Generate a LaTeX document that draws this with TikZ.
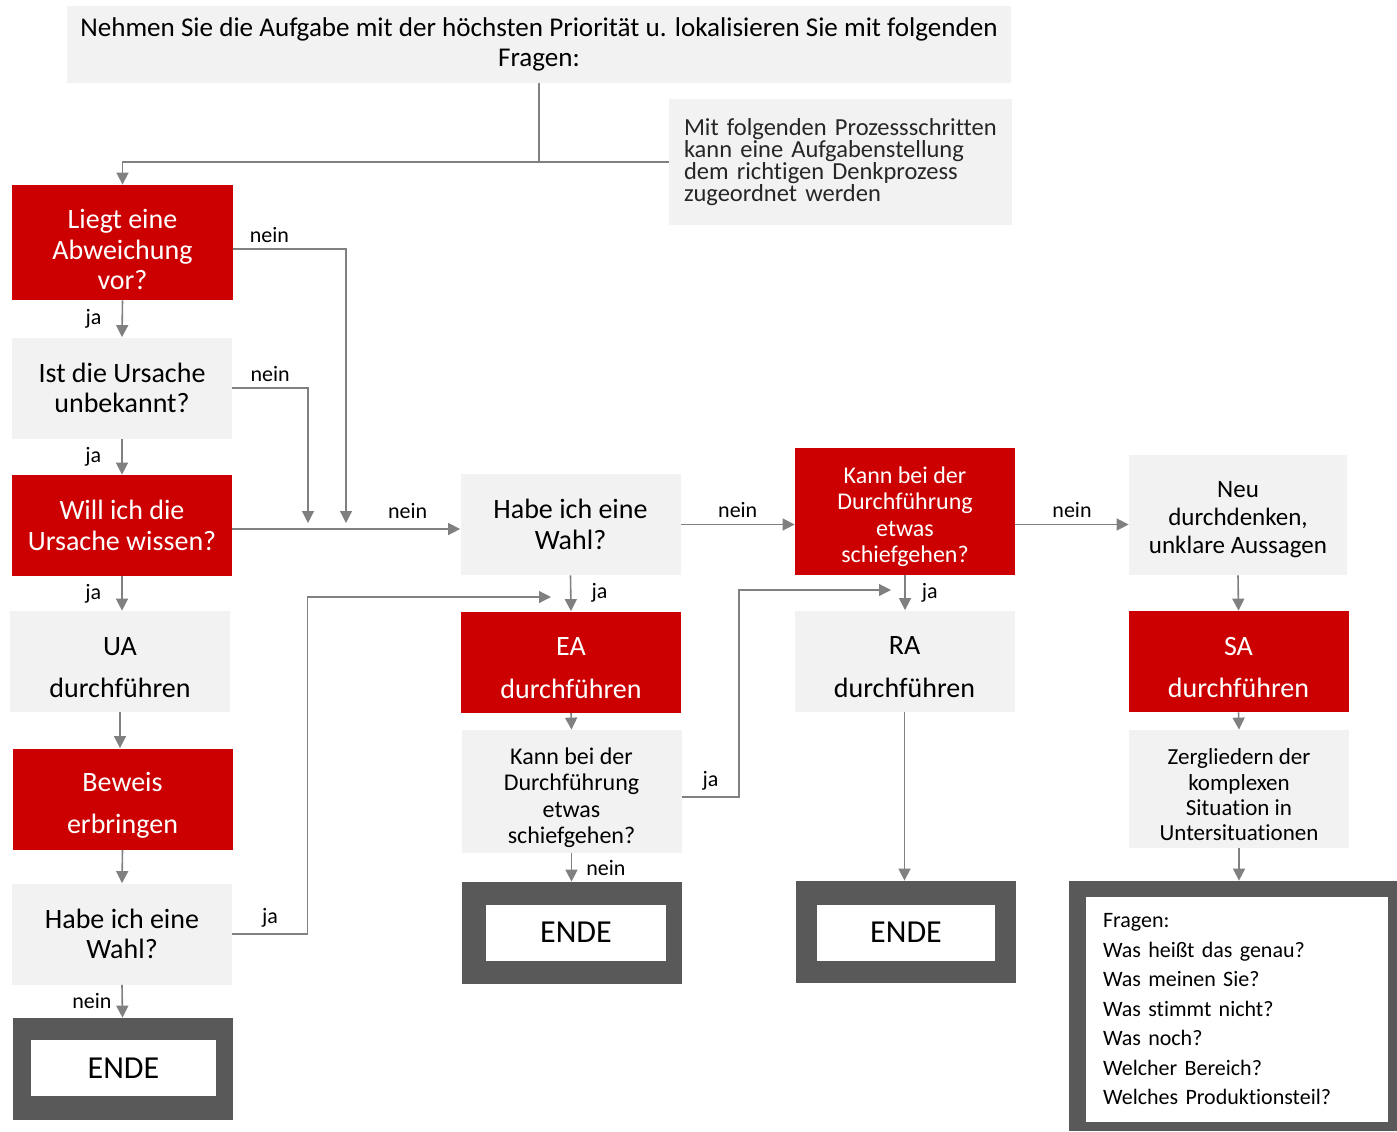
\documentclass[tikz,border=0pt]{standalone}
\usepackage{fontspec}
\setmainfont{Carlito}[Ligatures=NoCommon]
\usetikzlibrary{arrows.meta}
\definecolor{flowred}{RGB}{204,0,0}
\definecolor{boxgray}{RGB}{242,242,242}
\definecolor{endgray}{RGB}{89,89,89}
\definecolor{linegray}{RGB}{128,128,128}
\newcommand{\boxfont}{\fontsize{14}{15.25}\selectfont}
\newcommand{\askfont}{\fontsize{12}{13.3}\selectfont}
\newcommand{\labfont}{\fontsize{11}{13}\selectfont}
\newcommand{\topgap}[1]{\rule{0pt}{#1}}
\tikzset{
  box/.style     = {rectangle, inner sep=0pt, align=center,
                    minimum width=110pt, minimum height=50.5pt, font=\boxfont},
  redbox/.style  = {box, fill=flowred, text=white},
  graybox/.style = {box, fill=boxgray, text=black},
  endframe/.style= {rectangle, fill=endgray, inner sep=0pt,
                    minimum width=110pt, minimum height=51pt},
  endtext/.style = {rectangle, fill=white, inner sep=0pt, minimum height=28pt,
                    font=\fontsize{16}{18}\selectfont},
  arr/.style     = {-{Triangle[length=6pt,width=6pt]}, draw=linegray, line width=0.8pt},
  line/.style    = {draw=linegray, line width=0.6pt},
  lab/.style     = {font=\labfont, inner sep=1pt}
}
\begin{document}
\begin{tikzpicture}[x=0.5pt,y=-0.5pt]
  \useasboundingbox (0,0) rectangle (1397,1131);

  % header
  \node[box, fill=boxgray, minimum width=472pt, minimum height=38.5pt,
        font=\fontsize{13.55}{15}\selectfont] (title) at (539,44.5)
    {Nehmen Sie die Aufgabe mit der höchsten Priorität u. lokalisieren Sie mit folgenden\\Fragen:};
  \node[rectangle, fill=boxgray, minimum width=171.5pt, minimum height=63pt,
        text width=156.5pt, align=left, inner sep=7.5pt, text=black!85,
        font=\fontsize{12.25}{11}\selectfont] (side) at (840.5,162)
    {Mit folgenden Prozessschritten\\kann eine Aufgabenstellung\\dem richtigen Denkprozess\\zugeordnet werden};

  % left column
  \node[redbox, minimum width=110.5pt, minimum height=57.5pt] (liegt) at (122.5,242.5)
    {\topgap{17pt}Liegt eine\\Abweichung\\vor?};
  \node[graybox] (ist)    at (122,388)   {Ist die Ursache\\unbekannt?};
  \node[redbox]  (will)   at (122,525.5) {Will ich die\\Ursache wissen?};
  \node[graybox] (ua)     at (120,661.5) {\topgap{15pt}UA\\[6pt]durchführen};
  \node[redbox]  (beweis) at (122.5,799) {\topgap{16pt}Beweis\\[6pt]erbringen};
  \node[graybox] (wahlA)  at (122,934)   {Habe ich eine\\Wahl?};
  \node[endframe] (endA)  at (122.5,1069) {};
  \node[endtext, minimum width=92.5pt] (endAin) at (123.5,1068) {ENDE};

  % middle column
  \node[graybox] (wahlB) at (570.5,524.5) {Habe ich eine\\Wahl?};
  \node[redbox]  (ea)    at (571,662)     {\topgap{15pt}EA\\[6pt]durchführen};
  \node[graybox, minimum height=61.5pt, font=\askfont] (kannA) at (571.5,791.5)
    {\topgap{14.5pt}Kann bei der\\Durchführung\\etwas\\schiefgehen?};
  \node[endframe] (endB) at (571.5,933) {};
  \node[endtext, minimum width=90pt] (endBin) at (576,932.5) {ENDE};

  % third column
  \node[redbox, minimum height=63.5pt, font=\askfont] (kannB) at (905,511.5)
    {\topgap{13.5pt}Kann bei der\\Durchführung\\etwas\\schiefgehen?};
  \node[graybox] (ra)   at (904.5,661) {\topgap{15pt}RA\\[6pt]durchführen};
  \node[endframe] (endC) at (906,932) {};
  \node[endtext, minimum width=89pt] (endCin) at (906,932.5) {ENDE};

  % right column
  \node[graybox, minimum width=109pt, minimum height=60pt,
        font=\fontsize{12.5}{14}\selectfont] (neu) at (1238,515)
    {\topgap{13pt}Neu\\durchdenken,\\unklare Aussagen};
  \node[redbox] (sa) at (1238.5,661.5) {\topgap{15pt}SA\\[6pt]durchführen};
  \node[graybox, minimum height=59pt, font=\fontsize{11.5}{12.65}\selectfont] (zerg) at (1239,789)
    {\topgap{14pt}Zergliedern der\\komplexen\\Situation in\\Untersituationen};
  \node[rectangle, fill=endgray, inner sep=0pt, minimum width=164pt,
        minimum height=125pt] (fragen) at (1233,1006) {};
  \node[rectangle, fill=white, inner xsep=8.5pt, inner ysep=0pt, text width=134pt,
        minimum height=112.5pt, align=left, font=\fontsize{11}{14.75}\selectfont]
    (fragenIn) at (1237,1009.5)
    {Fragen:\\Was heißt das genau?\\Was meinen Sie?\\Was stimmt nicht?\\Was noch?\\Welcher Bereich?\\Welches Produktionsteil?};

  % free ends
  \coordinate (dropA) at (346,523);
  \coordinate (dropB) at (308,523);
  \coordinate (eaIn)  at (551,597);
  \coordinate (raIn)  at (891,590);

  % connectors
  \draw[line] (title.south) -- (title.south |- side.west);
  \draw[arr] (side.west) -| (liegt.north);
  \draw[arr] (liegt.south) -- node[lab, left=9pt] {ja} (ist.north);
  \draw[arr] (ist.south) -- node[lab, left=9pt] {ja} (will.north);
  \draw[arr] (will.south) -- node[lab, left=9pt] {ja} (will.south |- ua.north);
  \draw[arr] (ua.south) -- (ua.south |- beweis.north);
  \draw[arr] (beweis.south) -- (wahlA.north);
  \draw[arr] (wahlA.south) -- node[lab, left=4pt] {nein} (endA.north);

  \draw[arr, line width=0.6pt] ([yshift=-3.25pt]liegt.east) -| node[lab, pos=0.16, above=2pt] {nein} (dropA);
  \draw[arr, line width=0.6pt] (ist.east) -| node[lab, pos=0.25, above=2pt] {nein} (dropB);
  \draw[arr] ([yshift=-1.75pt]will.east) -- node[lab, pos=0.77, above=4pt] {nein}
    ([yshift=-1.75pt]will.east -| wahlB.west);
  \draw[arr, line width=0.6pt] (wahlA.east) -- node[lab, above=2pt] {ja} ++(75,0) |- (eaIn);

  \draw[arr] (wahlB.south) -- node[lab, right=9pt] {ja} (ea.north);
  \draw[arr] (ea.south) -- (kannA.north);
  \draw[arr] (kannA.south) -- node[lab, right=6pt] {nein} (endB.north);
  \draw[arr, line width=0.6pt] ([yshift=-2.75pt]kannA.east) -- node[lab, above=2pt] {ja} ++(57,0) |- (raIn);

  \draw[arr] (wahlB.east) -- node[lab, above=2pt] {nein} (wahlB.east -| kannB.west);
  \draw[arr] (kannB.south) -- node[lab, right=7pt] {ja} (kannB.south |- ra.north);
  \draw[arr] (ra.south) -- (ra.south |- endC.north);
  \draw[arr] (kannB.east |- wahlB.east) -- node[lab, above=2pt] {nein} (neu.west |- wahlB.east);
  \draw[arr] (neu.south) -- (sa.north);
  \draw[arr] (sa.south) -- (zerg.north);
  \draw[arr] (zerg.south) -- (zerg.south |- fragen.north);
\end{tikzpicture}
\end{document}
